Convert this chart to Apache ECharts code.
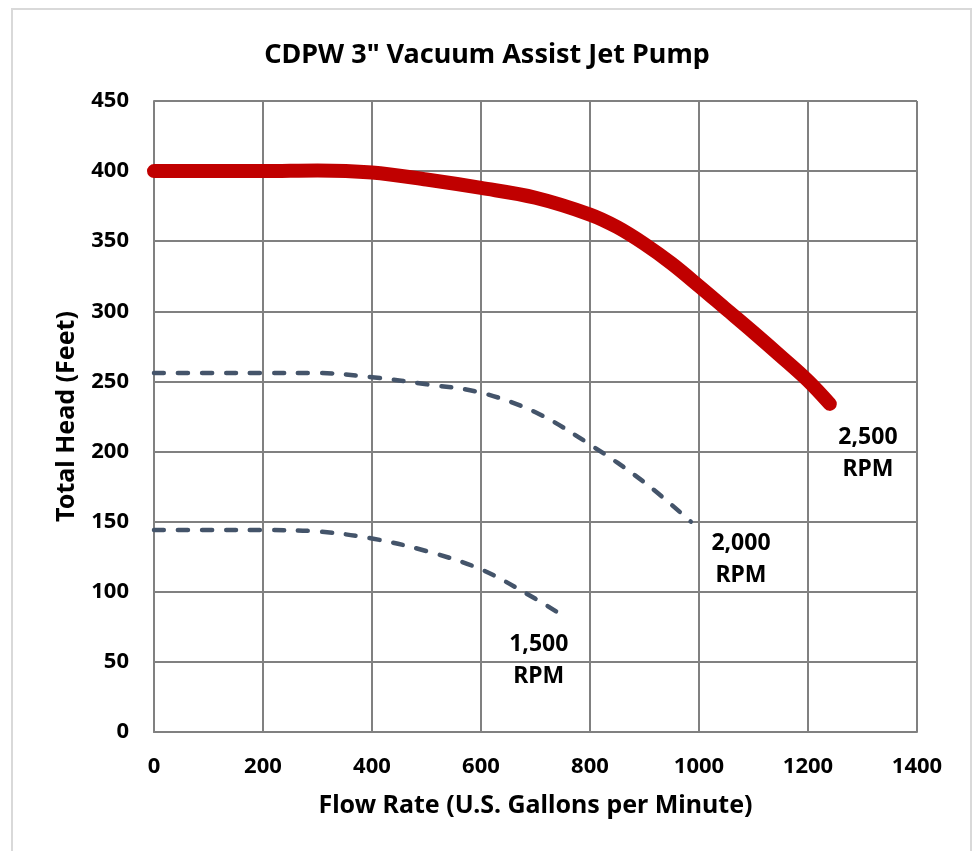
<!DOCTYPE html>
<html>
<head>
<meta charset="utf-8">
<title>CDPW 3" Vacuum Assist Jet Pump</title>
<script src="https://cdn.jsdelivr.net/npm/echarts@6/dist/echarts.min.js"></script>
<style>
    html, body { margin: 0; padding: 0; background: #fff; }
    #chart { width: 974px; height: 851px; }
</style>
</head>
<body>
<div id="chart"></div>
<script>
// pump curves
var flow2500 = [0, 100, 200, 300, 400, 500, 600, 700, 800, 850, 900, 950, 1000, 1050, 1100, 1150, 1200, 1240];
var head2500 = [400, 400, 400, 400.5, 399, 394, 388, 381, 369, 360, 348, 334, 318, 301.5, 285, 268, 250.5, 234];

var flow2000 = [0, 100, 200, 300, 400, 500, 600, 700, 800, 900, 985];
var head2000 = [256, 256, 256, 256, 253, 248, 242, 228, 205, 178, 150];

var flow1500 = [0, 100, 200, 300, 400, 500, 600, 700, 750];
var head1500 = [144, 144, 144, 143, 138, 129, 116, 95, 83];

var rpmLabels = ['2,500\nRPM', '2,000\nRPM', '1,500\nRPM'];

var FONT = '"Noto Sans", sans-serif';
var GRID_GRAY = '#808080';

function pairs(xs, ys) {
    return xs.map(function (x, i) { return [x, ys[i]]; });
}

// label sitting next to the end of a curve, placed in data units
function rpmTag(text, coord) {
    return {
        symbol: 'circle',
        symbolSize: 1,
        silent: true,
        itemStyle: { color: 'rgba(0,0,0,0)' },
        label: {
            show: true,
            position: 'inside',
            formatter: text,
            color: '#000',
            fontFamily: FONT,
            fontWeight: 'bold',
            fontSize: 23,
            lineHeight: 32,
            align: 'center',
            verticalAlign: 'middle'
        },
        data: [{ coord: coord }]
    };
}

var myChart = echarts.init(document.getElementById('chart'));

myChart.setOption({
    animation: false,
    backgroundColor: '#fff',
    title: {
        text: 'CDPW 3" Vacuum Assist Jet Pump',
        left: 'center',
        top: 37,
        textStyle: {
            fontFamily: FONT,
            fontWeight: 'bold',
            fontSize: 27,
            color: '#000'
        }
    },
    graphic: [{
        // light frame round the whole chart
        type: 'rect',
        shape: { x: 12, y: 9, width: 959, height: 870 },
        style: { fill: 'none', stroke: '#d9d9d9', lineWidth: 2 },
        silent: true
    }],
    grid: {
        left: 154,
        right: 57,
        top: 101,
        bottom: 119
    },
    xAxis: {
        type: 'value',
        min: 0,
        max: 1400,
        interval: 200,
        name: 'Flow Rate (U.S. Gallons per Minute)',
        nameLocation: 'middle',
        nameGap: 61,
        nameTextStyle: {
            fontFamily: FONT,
            fontWeight: 'bold',
            fontSize: 25,
            color: '#000'
        },
        axisLine: { show: true, lineStyle: { color: GRID_GRAY, width: 2 } },
        axisTick: { show: false },
        axisLabel: {
            margin: 24,
            fontFamily: FONT,
            fontWeight: 'bold',
            fontSize: 22,
            color: '#000',
            formatter: function (v) { return String(v); }
        },
        splitLine: { show: true, lineStyle: { color: GRID_GRAY, width: 2 } }
    },
    yAxis: {
        type: 'value',
        min: 0,
        max: 450,
        interval: 50,
        name: 'Total Head (Feet)',
        nameLocation: 'middle',
        nameGap: 75,
        nameTextStyle: {
            fontFamily: FONT,
            fontWeight: 'bold',
            fontSize: 25,
            color: '#000'
        },
        axisLine: { show: true, lineStyle: { color: GRID_GRAY, width: 2 } },
        axisTick: { show: false },
        axisLabel: {
            margin: 25,
            fontFamily: FONT,
            fontWeight: 'bold',
            fontSize: 22,
            color: '#000'
        },
        splitLine: { show: true, lineStyle: { color: GRID_GRAY, width: 2 } }
    },
    series: [
        {
            name: '1,500 RPM',
            type: 'line',
            smooth: 0.35,
            showSymbol: false,
            z: 3,
            lineStyle: { color: '#44546a', width: 4.5, type: [10, 14], cap: 'round' },
            data: pairs(flow1500, head1500),
            markPoint: rpmTag(rpmLabels[2], [706, 51])
        },
        {
            name: '2,000 RPM',
            type: 'line',
            smooth: 0.35,
            showSymbol: false,
            z: 3,
            lineStyle: { color: '#44546a', width: 4.5, type: [10, 14], cap: 'round' },
            data: pairs(flow2000, head2000),
            markPoint: rpmTag(rpmLabels[1], [1077, 123])
        },
        {
            name: '2,500 RPM',
            type: 'line',
            smooth: 0.35,
            showSymbol: false,
            z: 4,
            lineStyle: { color: '#c00000', width: 14, cap: 'round' },
            data: pairs(flow2500, head2500),
            markPoint: rpmTag(rpmLabels[0], [1310, 199])
        }
    ]
});
</script>
</body>
</html>
